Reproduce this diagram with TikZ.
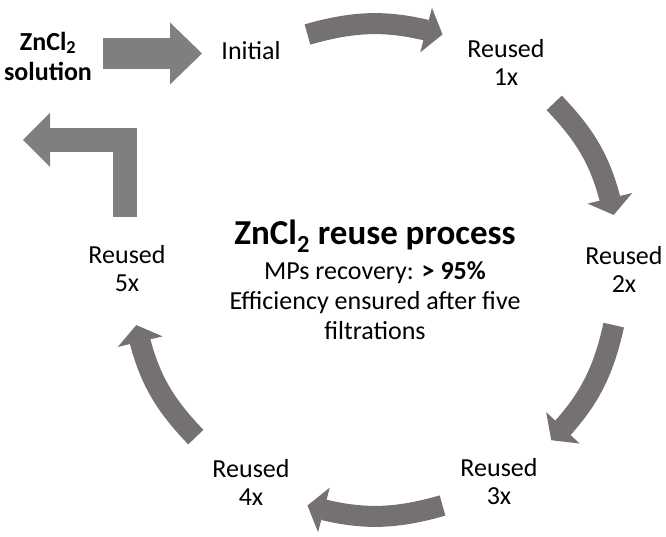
\documentclass[tikz,border=0pt]{standalone}
\usepackage{fontspec}
\setmainfont{Carlito}
\usetikzlibrary{arrows.meta,bending,calc}
\definecolor{loopgrey}{RGB}{118,113,113}
\definecolor{feedgrey}{RGB}{127,127,127}

\begin{document}
\begin{tikzpicture}[x=1pt,y=1pt,
  stage/.style={align=center,font=\fontsize{26}{28}\selectfont},
  loop arrow/.style={loopgrey,line width=21pt,
    -{Triangle[width=46pt,length=17pt,line width=0pt 0 0]}},
  feed arrow/.style={feedgrey,line width=31pt,
    -{Triangle[width=62pt,length=32pt,line width=0pt 0 0]}}]
  \useasboundingbox (0,0) rectangle (666,536);
  \coordinate (c) at (375,266);

  % stages round the loop
  \node[stage,font=\fontsize{26}{30}\selectfont\bfseries] (sol) at (48,480) {ZnCl\textsubscript{2}\\solution};
  \node[stage] (init) at (251,485) {Initial};
  \node[stage] (r1) at (506,474) {Reused\\1x};
  \node[stage] (r2) at (624,267) {Reused\\2x};
  \node[stage] (r3) at (499,54) {Reused\\3x};
  \node[stage] (r4) at (251,54) {Reused\\4x};
  \node[stage] (r5) at (127,267) {Reused\\5x};
  \node[stage,font=\fontsize{26}{30}\selectfont] (proc) at (375,256)
    {{\fontsize{35}{40}\selectfont\bfseries ZnCl\textsubscript{2} reuse process}\\[5pt]
     MPs recovery: \textbf{> 95\%}\\Efficiency ensured after five\\filtrations};

  % feed in and back out
  \coordinate (in0) at (103,482.5);
  \coordinate (in1) at (202,482.5);
  \draw[feed arrow] (in0) -- (in1);
  \coordinate (out0) at (125,319);
  \coordinate (out1) at (23,396);
  \draw[feed arrow,line width=24pt,line join=miter,
    -{Triangle[width=54pt,length=27pt,line width=0pt 0 0]}] (out0) |- (out1);

  % curved arrows of the loop
  \foreach \a/\b [count=\i] in {106/74,43/13,-13/-44,-74/-106,-137/-167} {
    \coordinate (t\i) at ($(c)+(\a:245)$);
    \coordinate (h\i) at ($(c)+(\b:245)$);
    \draw[loop arrow] (t\i) to[bend left=16] (h\i);
  }
\end{tikzpicture}
\end{document}
